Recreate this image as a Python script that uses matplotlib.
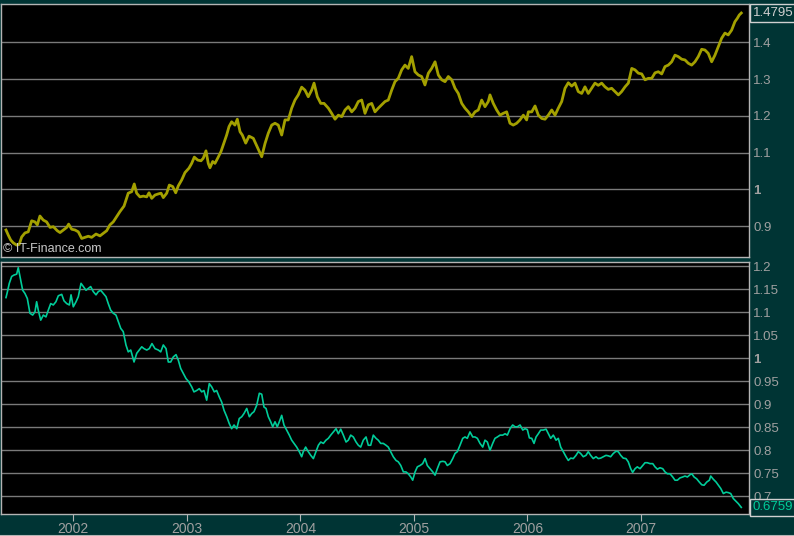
import matplotlib
matplotlib.use("Agg")
import matplotlib.pyplot as plt
from matplotlib.lines import Line2D

# EUR/USD (top panel), dates as fractional years
eur_years = [
    2001.407, 2001.427, 2001.448, 2001.471, 2001.501, 2001.524, 2001.545, 2001.574, 2001.603, 2001.633,
    2001.662, 2001.683, 2001.706, 2001.735, 2001.765, 2001.795, 2001.824, 2001.859, 2001.883, 2001.912,
    2001.942, 2001.959, 2001.986, 2002.015, 2002.044, 2002.074, 2002.103, 2002.132, 2002.162, 2002.200,
    2002.235, 2002.264, 2002.294, 2002.323, 2002.352, 2002.382, 2002.411, 2002.447, 2002.484, 2002.514,
    2002.537, 2002.558, 2002.587, 2002.617, 2002.647, 2002.667, 2002.691, 2002.720, 2002.749, 2002.773,
    2002.793, 2002.823, 2002.846, 2002.876, 2002.902, 2002.925, 2002.955, 2002.984, 2003.019, 2003.043,
    2003.066, 2003.096, 2003.125, 2003.145, 2003.169, 2003.189, 2003.204, 2003.228, 2003.248, 2003.272,
    2003.301, 2003.321, 2003.351, 2003.372, 2003.395, 2003.424, 2003.445, 2003.469, 2003.489, 2003.519,
    2003.548, 2003.586, 2003.660, 2003.689, 2003.718, 2003.748, 2003.777, 2003.806, 2003.836, 2003.865,
    2003.894, 2003.924, 2003.953, 2003.982, 2004.012, 2004.041, 2004.070, 2004.100, 2004.121, 2004.150,
    2004.180, 2004.209, 2004.247, 2004.276, 2004.306, 2004.335, 2004.365, 2004.394, 2004.423, 2004.453,
    2004.482, 2004.511, 2004.541, 2004.570, 2004.599, 2004.629, 2004.658, 2004.687, 2004.717, 2004.746,
    2004.775, 2004.805, 2004.834, 2004.863, 2004.893, 2004.922, 2004.951, 2004.981, 2005.010, 2005.040,
    2005.069, 2005.098, 2005.128, 2005.157, 2005.187, 2005.216, 2005.246, 2005.275, 2005.304, 2005.334,
    2005.363, 2005.392, 2005.422, 2005.451, 2005.480, 2005.510, 2005.539, 2005.568, 2005.598, 2005.627,
    2005.656, 2005.671, 2005.700, 2005.730, 2005.759, 2005.788, 2005.818, 2005.847, 2005.876, 2005.906,
    2005.935, 2005.965, 2005.994, 2006.009, 2006.039, 2006.068, 2006.097, 2006.127, 2006.156, 2006.185,
    2006.215, 2006.244, 2006.273, 2006.303, 2006.332, 2006.361, 2006.391, 2006.420, 2006.449, 2006.479,
    2006.508, 2006.537, 2006.567, 2006.596, 2006.625, 2006.655, 2006.684, 2006.713, 2006.743, 2006.772,
    2006.802, 2006.831, 2006.861, 2006.890, 2006.920, 2006.949, 2006.978, 2007.008, 2007.037, 2007.066,
    2007.096, 2007.125, 2007.154, 2007.184, 2007.213, 2007.242, 2007.272, 2007.301, 2007.330, 2007.360,
    2007.389, 2007.418, 2007.448, 2007.477, 2007.506, 2007.536, 2007.565, 2007.594, 2007.624, 2007.653,
    2007.682, 2007.712, 2007.741, 2007.770, 2007.800, 2007.829, 2007.850, 2007.867, 2007.885,
]
eur_usd = [
    0.890, 0.876, 0.863, 0.855, 0.849, 0.851, 0.871, 0.882, 0.885, 0.915,
    0.912, 0.904, 0.928, 0.917, 0.912, 0.897, 0.899, 0.888, 0.883, 0.890,
    0.897, 0.906, 0.892, 0.890, 0.885, 0.867, 0.870, 0.873, 0.870, 0.879,
    0.874, 0.881, 0.888, 0.904, 0.912, 0.926, 0.940, 0.955, 0.990, 0.994,
    1.015, 0.990, 0.980, 0.982, 0.980, 0.991, 0.976, 0.985, 0.988, 0.990,
    0.978, 0.990, 1.012, 1.008, 0.991, 1.010, 1.026, 1.046, 1.058, 1.071,
    1.088, 1.080, 1.078, 1.085, 1.105, 1.071, 1.059, 1.076, 1.071, 1.085,
    1.103, 1.121, 1.148, 1.171, 1.184, 1.175, 1.191, 1.157, 1.148, 1.126,
    1.145, 1.139, 1.089, 1.125, 1.153, 1.175, 1.180, 1.175, 1.148, 1.189,
    1.189, 1.221, 1.243, 1.257, 1.278, 1.270, 1.252, 1.270, 1.289, 1.252,
    1.234, 1.234, 1.221, 1.207, 1.191, 1.202, 1.198, 1.216, 1.225, 1.211,
    1.221, 1.239, 1.243, 1.207, 1.230, 1.234, 1.211, 1.221, 1.230, 1.239,
    1.243, 1.270, 1.293, 1.302, 1.325, 1.338, 1.329, 1.361, 1.320, 1.311,
    1.307, 1.284, 1.316, 1.329, 1.347, 1.311, 1.298, 1.293, 1.307, 1.298,
    1.275, 1.261, 1.234, 1.221, 1.211, 1.198, 1.211, 1.216, 1.243, 1.225,
    1.239, 1.257, 1.234, 1.216, 1.202, 1.207, 1.211, 1.180, 1.175, 1.180,
    1.189, 1.202, 1.189, 1.211, 1.211, 1.227, 1.202, 1.193, 1.191, 1.202,
    1.216, 1.202, 1.221, 1.239, 1.275, 1.290, 1.281, 1.289, 1.266, 1.261,
    1.279, 1.261, 1.275, 1.289, 1.283, 1.289, 1.279, 1.272, 1.275, 1.266,
    1.257, 1.266, 1.279, 1.289, 1.329, 1.325, 1.316, 1.314, 1.298, 1.302,
    1.302, 1.317, 1.320, 1.314, 1.334, 1.338, 1.347, 1.365, 1.361, 1.354,
    1.352, 1.343, 1.338, 1.347, 1.361, 1.381, 1.379, 1.370, 1.347, 1.365,
    1.388, 1.411, 1.425, 1.420, 1.433, 1.456, 1.465, 1.474, 1.4795,
]

# USD/EUR (bottom panel)
usd_years = [
    2001.407, 2001.418, 2001.436, 2001.457, 2001.477, 2001.501, 2001.515, 2001.536, 2001.554, 2001.574,
    2001.595, 2001.618, 2001.642, 2001.662, 2001.677, 2001.691, 2001.713, 2001.736, 2001.759, 2001.780,
    2001.801, 2001.824, 2001.847, 2001.868, 2001.898, 2001.918, 2001.942, 2001.965, 2001.980, 2002.000,
    2002.024, 2002.044, 2002.068, 2002.088, 2002.112, 2002.132, 2002.153, 2002.176, 2002.200, 2002.220,
    2002.241, 2002.264, 2002.288, 2002.308, 2002.329, 2002.352, 2002.376, 2002.396, 2002.418, 2002.440,
    2002.464, 2002.484, 2002.506, 2002.535, 2002.559, 2002.581, 2002.603, 2002.623, 2002.647, 2002.669,
    2002.693, 2002.720, 2002.749, 2002.770, 2002.793, 2002.817, 2002.837, 2002.858, 2002.881, 2002.905,
    2002.925, 2002.946, 2002.969, 2002.993, 2003.017, 2003.043, 2003.063, 2003.087, 2003.110, 2003.131,
    2003.151, 2003.175, 2003.198, 2003.219, 2003.242, 2003.263, 2003.286, 2003.307, 2003.328, 2003.352,
    2003.374, 2003.395, 2003.416, 2003.440, 2003.462, 2003.484, 2003.504, 2003.528, 2003.551, 2003.572,
    2003.592, 2003.616, 2003.639, 2003.660, 2003.680, 2003.698, 2003.718, 2003.739, 2003.757, 2003.777,
    2003.797, 2003.815, 2003.836, 2003.856, 2003.880, 2003.903, 2003.924, 2003.944, 2003.968, 2003.991,
    2004.012, 2004.026, 2004.047, 2004.070, 2004.092, 2004.115, 2004.138, 2004.159, 2004.180, 2004.203,
    2004.226, 2004.247, 2004.268, 2004.291, 2004.315, 2004.335, 2004.356, 2004.379, 2004.403, 2004.423,
    2004.444, 2004.467, 2004.491, 2004.511, 2004.532, 2004.555, 2004.579, 2004.599, 2004.620, 2004.643,
    2004.667, 2004.687, 2004.708, 2004.731, 2004.755, 2004.775, 2004.796, 2004.819, 2004.843, 2004.863,
    2004.885, 2004.908, 2004.931, 2004.951, 2004.973, 2004.990, 2005.011, 2005.031, 2005.055, 2005.078,
    2005.099, 2005.119, 2005.143, 2005.167, 2005.187, 2005.207, 2005.231, 2005.255, 2005.275, 2005.295,
    2005.319, 2005.343, 2005.363, 2005.383, 2005.407, 2005.431, 2005.451, 2005.471, 2005.495, 2005.519,
    2005.539, 2005.560, 2005.583, 2005.607, 2005.627, 2005.648, 2005.671, 2005.695, 2005.715, 2005.736,
    2005.760, 2005.783, 2005.804, 2005.824, 2005.848, 2005.871, 2005.892, 2005.912, 2005.936, 2005.960,
    2005.980, 2006.000, 2006.018, 2006.039, 2006.059, 2006.077, 2006.097, 2006.118, 2006.141, 2006.165,
    2006.185, 2006.206, 2006.229, 2006.253, 2006.273, 2006.294, 2006.317, 2006.341, 2006.361, 2006.382,
    2006.405, 2006.429, 2006.449, 2006.470, 2006.493, 2006.517, 2006.537, 2006.558, 2006.581, 2006.605,
    2006.625, 2006.646, 2006.669, 2006.693, 2006.713, 2006.734, 2006.757, 2006.781, 2006.801, 2006.823,
    2006.845, 2006.869, 2006.889, 2006.911, 2006.928, 2006.949, 2006.969, 2006.993, 2007.017, 2007.037,
    2007.057, 2007.081, 2007.105, 2007.125, 2007.146, 2007.169, 2007.193, 2007.213, 2007.234, 2007.257,
    2007.281, 2007.301, 2007.322, 2007.345, 2007.369, 2007.389, 2007.410, 2007.434, 2007.449, 2007.469,
    2007.492, 2007.515, 2007.537, 2007.557, 2007.581, 2007.604, 2007.616, 2007.639, 2007.663, 2007.683,
    2007.704, 2007.727, 2007.751, 2007.771, 2007.792, 2007.815, 2007.839, 2007.859, 2007.885,
]
usd_eur = [
    1.132, 1.143, 1.163, 1.178, 1.181, 1.183, 1.197, 1.170, 1.148, 1.141,
    1.130, 1.098, 1.094, 1.101, 1.123, 1.105, 1.083, 1.094, 1.090, 1.105,
    1.119, 1.116, 1.123, 1.136, 1.139, 1.125, 1.119, 1.116, 1.138, 1.112,
    1.123, 1.134, 1.163, 1.156, 1.148, 1.152, 1.156, 1.145, 1.138, 1.145,
    1.148, 1.141, 1.134, 1.119, 1.105, 1.098, 1.094, 1.080, 1.065, 1.058,
    1.029, 1.014, 1.018, 0.992, 1.011, 1.018, 1.025, 1.021, 1.018, 1.021,
    1.032, 1.021, 1.018, 1.014, 1.029, 1.021, 0.992, 0.992, 1.003, 1.008,
    0.996, 0.978, 0.967, 0.956, 0.949, 0.938, 0.927, 0.930, 0.934, 0.927,
    0.930, 0.909, 0.945, 0.938, 0.927, 0.930, 0.916, 0.905, 0.887, 0.873,
    0.858, 0.847, 0.855, 0.847, 0.869, 0.873, 0.880, 0.891, 0.873, 0.880,
    0.884, 0.898, 0.924, 0.922, 0.894, 0.891, 0.873, 0.862, 0.851, 0.862,
    0.851, 0.862, 0.876, 0.855, 0.844, 0.833, 0.822, 0.815, 0.807, 0.797,
    0.786, 0.797, 0.807, 0.797, 0.789, 0.782, 0.797, 0.811, 0.818, 0.815,
    0.822, 0.826, 0.833, 0.840, 0.847, 0.836, 0.846, 0.833, 0.818, 0.822,
    0.833, 0.829, 0.818, 0.811, 0.807, 0.822, 0.829, 0.811, 0.811, 0.833,
    0.826, 0.822, 0.815, 0.815, 0.811, 0.807, 0.797, 0.786, 0.778, 0.775,
    0.767, 0.753, 0.753, 0.749, 0.742, 0.735, 0.753, 0.764, 0.767, 0.771,
    0.782, 0.767, 0.760, 0.753, 0.746, 0.760, 0.775, 0.776, 0.775, 0.767,
    0.771, 0.782, 0.793, 0.797, 0.811, 0.826, 0.829, 0.826, 0.840, 0.829,
    0.829, 0.826, 0.815, 0.807, 0.822, 0.818, 0.800, 0.815, 0.826, 0.829,
    0.833, 0.833, 0.836, 0.833, 0.847, 0.855, 0.851, 0.851, 0.855, 0.844,
    0.847, 0.845, 0.827, 0.826, 0.815, 0.829, 0.836, 0.844, 0.844, 0.846,
    0.836, 0.826, 0.833, 0.822, 0.826, 0.807, 0.797, 0.786, 0.778, 0.783,
    0.782, 0.789, 0.797, 0.793, 0.786, 0.789, 0.797, 0.789, 0.782, 0.786,
    0.782, 0.783, 0.786, 0.789, 0.788, 0.786, 0.793, 0.798, 0.797, 0.789,
    0.783, 0.782, 0.775, 0.760, 0.752, 0.760, 0.764, 0.760, 0.767, 0.773,
    0.773, 0.771, 0.771, 0.764, 0.759, 0.762, 0.760, 0.753, 0.749, 0.749,
    0.742, 0.735, 0.735, 0.740, 0.742, 0.744, 0.742, 0.747, 0.749, 0.742,
    0.738, 0.731, 0.725, 0.724, 0.731, 0.735, 0.744, 0.737, 0.731, 0.724,
    0.717, 0.706, 0.709, 0.708, 0.706, 0.695, 0.689, 0.684, 0.6759,
]

years = [2002, 2003, 2004, 2005, 2006, 2007]
top_ticks = [0.9, 1.0, 1.1, 1.2, 1.3, 1.4]
bottom_ticks = [0.7, 0.75, 0.8, 0.85, 0.9, 0.95, 1.0, 1.05, 1.1, 1.15, 1.2]

BG = '#003434'
GRID = '#7a7a7a'
FRAME = '#b4b4b4'
LABEL = '#a0a0a0'

plt.rcParams['font.family'] = ['Liberation Sans', 'DejaVu Sans']

fig = plt.figure(figsize=(7.94, 5.36), dpi=100, facecolor=BG)
W, H = 794.0, 536.0
ax1 = fig.add_axes([1 / W, 1 - 257 / H, 748 / W, 253 / H])
ax2 = fig.add_axes([1 / W, 1 - 514 / H, 748 / W, 252 / H])


def fmt(v):
    return ('%.2f' % v).rstrip('0').rstrip('.')


for ax, ticks in [(ax1, top_ticks), (ax2, bottom_ticks)]:
    ax.set_facecolor('black')
    ax.set_xlim(2001.363, 2007.953)
    ax.yaxis.tick_right()
    ax.set_yticks(ticks)
    ax.set_yticklabels([fmt(t) for t in ticks])
    ax.tick_params(axis='y', length=0, pad=3, labelsize=9.5, labelcolor=LABEL)
    for t, lab in zip(ticks, ax.get_yticklabels()):
        if abs(t - 1.0) < 1e-9:
            lab.set_fontweight('bold')
    ax.grid(axis='y', color=GRID, linewidth=1)
    ax.set_axisbelow(True)
    for sp in ax.spines.values():
        sp.set_color(FRAME)
        sp.set_linewidth(1)

ax1.set_ylim(0.8166, 1.504)
ax2.set_ylim(0.6615, 1.2094)

ax1.plot(eur_years, eur_usd, color='#a3a000', linewidth=2.0)
ax2.plot(usd_years, usd_eur, color='#00cc99', linewidth=1.2)

ax1.set_xticks([])
ax2.set_xticks(years)
ax2.set_xticklabels([str(y) for y in years])
ax2.tick_params(axis='x', direction='out', length=5, color=FRAME, pad=1,
                labelsize=10, labelcolor=LABEL)

ax1.text(0.003, 0.008, '\u00a9 IT-Finance.com', transform=ax1.transAxes,
         color='#c8c8c8', fontsize=9, ha='left', va='bottom')

# last-value boxes on the right axis
box = dict(boxstyle='square,pad=0.2', facecolor=BG, edgecolor='#d0d0d0', linewidth=1)
ax1.text(1.005, eur_usd[-1], '%.4f' % eur_usd[-1], transform=ax1.get_yaxis_transform(),
         color='#d0d0d0', fontsize=9.5, ha='left', va='center', zorder=10,
         bbox=box, clip_on=False)
ax2.text(1.005, usd_eur[-1], '%.4f' % usd_eur[-1], transform=ax2.get_yaxis_transform(),
         color='#00cc99', fontsize=9.5, ha='left', va='center', zorder=10,
         bbox=box, clip_on=False)

fig.add_artist(Line2D([0, 1], [0.5 / H, 0.5 / H], color=FRAME, linewidth=1.5))

fig.savefig('out.png', dpi=100, facecolor=BG)
